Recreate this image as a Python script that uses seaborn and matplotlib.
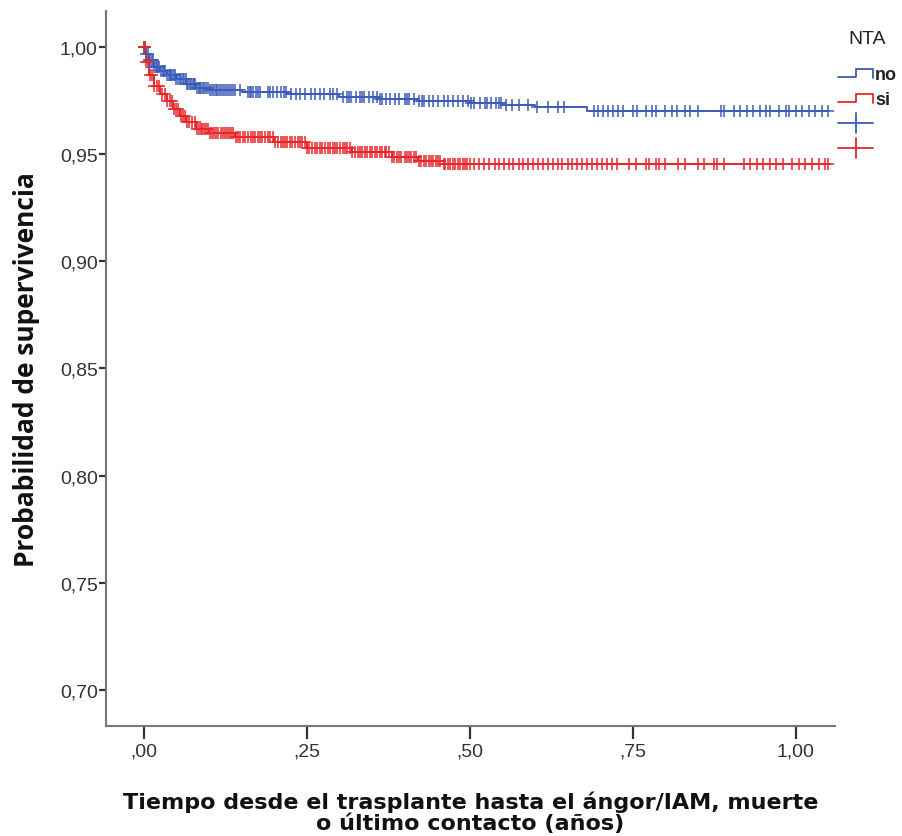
import numpy as np
import pandas as pd
import matplotlib
matplotlib.use("Agg")
import matplotlib.pyplot as plt
import seaborn as sns
from matplotlib.lines import Line2D
from matplotlib.legend_handler import HandlerBase

# ---- data ----
groups = ["no", "si"]
colors = {"no": "#3d5cba", "si": "#e8262b"}

no_times = [0.0, 0.003, 0.008, 0.015, 0.025, 0.035, 0.05, 0.065, 0.08, 0.10, 0.15,
            0.22, 0.30, 0.36, 0.42, 0.50, 0.55, 0.60, 0.68, 1.05]
no_surv = [1.0, 0.997, 0.994, 0.991, 0.989, 0.987, 0.985, 0.983, 0.981, 0.980, 0.979,
           0.978, 0.977, 0.976, 0.975, 0.974, 0.973, 0.972, 0.9705, 0.9705]

si_times = [0.0, 0.004, 0.008, 0.015, 0.025, 0.035, 0.045, 0.055, 0.065, 0.08, 0.10,
            0.14, 0.20, 0.25, 0.32, 0.38, 0.42, 0.46, 1.05]
si_surv = [1.0, 0.993, 0.987, 0.982, 0.978, 0.975, 0.971, 0.968, 0.965, 0.962, 0.960,
           0.958, 0.956, 0.953, 0.951, 0.949, 0.947, 0.9455, 0.9455]

no_censor = [0.0, 0.002, 0.004, 0.006, 0.008, 0.01, 0.012, 0.014, 0.016, 0.018, 0.02,
             0.022, 0.024, 0.027, 0.029, 0.031, 0.033, 0.036, 0.038, 0.04, 0.042,
             0.044, 0.046, 0.048, 0.05, 0.053, 0.055, 0.057, 0.06, 0.062, 0.064,
             0.066, 0.068, 0.071, 0.073, 0.075, 0.077, 0.079, 0.082, 0.084, 0.086,
             0.088, 0.091, 0.093, 0.096, 0.098, 0.101, 0.104, 0.107, 0.11, 0.113,
             0.115, 0.118, 0.121, 0.124, 0.127, 0.13, 0.134, 0.137, 0.14, 0.147,
             0.16, 0.163, 0.165, 0.168, 0.172, 0.175, 0.178, 0.19, 0.194, 0.198,
             0.205, 0.211, 0.215, 0.218, 0.226, 0.233, 0.24, 0.247, 0.256, 0.262,
             0.27, 0.277, 0.285, 0.29, 0.297, 0.305, 0.311, 0.315, 0.318, 0.326,
             0.332, 0.335, 0.338, 0.345, 0.352, 0.358, 0.362, 0.365, 0.372, 0.378,
             0.386, 0.392, 0.40, 0.404, 0.407, 0.415, 0.422, 0.427, 0.43, 0.437,
             0.443, 0.452, 0.46, 0.467, 0.474, 0.482, 0.49, 0.498, 0.502, 0.507,
             0.515, 0.523, 0.527, 0.532, 0.54, 0.545, 0.548, 0.556, 0.565, 0.575,
             0.59, 0.603, 0.62, 0.636, 0.645, 0.69, 0.697, 0.705, 0.712, 0.72,
             0.728, 0.735, 0.75, 0.757, 0.77, 0.78, 0.785, 0.80, 0.81, 0.818, 0.83,
             0.838, 0.85, 0.885, 0.89, 0.905, 0.915, 0.925, 0.935, 0.945, 0.955,
             0.96, 0.975, 0.985, 0.99, 1.0, 1.01, 1.02, 1.03, 1.04, 1.05]

si_censor = [0.0, 0.002, 0.004, 0.006, 0.009, 0.012, 0.016, 0.02, 0.024, 0.028,
             0.032, 0.036, 0.04, 0.043, 0.047, 0.05, 0.053, 0.057, 0.06, 0.063,
             0.067, 0.07, 0.074, 0.078, 0.082, 0.085, 0.088, 0.09, 0.093, 0.095,
             0.098, 0.102, 0.105, 0.108, 0.11, 0.114, 0.118, 0.121, 0.125, 0.128,
             0.13, 0.134, 0.137, 0.141, 0.145, 0.148, 0.152, 0.156, 0.16, 0.164,
             0.168, 0.171, 0.175, 0.178, 0.182, 0.186, 0.19, 0.194, 0.198, 0.202,
             0.206, 0.21, 0.213, 0.217, 0.22, 0.224, 0.228, 0.232, 0.236, 0.24,
             0.243, 0.247, 0.25, 0.254, 0.258, 0.262, 0.266, 0.27, 0.274, 0.278,
             0.282, 0.286, 0.29, 0.294, 0.297, 0.301, 0.305, 0.309, 0.312, 0.316,
             0.32, 0.324, 0.328, 0.332, 0.335, 0.34, 0.343, 0.347, 0.35, 0.354,
             0.358, 0.362, 0.365, 0.37, 0.372, 0.376, 0.38, 0.384, 0.388, 0.392,
             0.395, 0.40, 0.403, 0.407, 0.41, 0.414, 0.418, 0.422, 0.425, 0.43,
             0.433, 0.437, 0.44, 0.444, 0.448, 0.452, 0.455, 0.46, 0.462, 0.466,
             0.47, 0.474, 0.478, 0.482, 0.485, 0.49, 0.492, 0.496, 0.50, 0.507,
             0.514, 0.522, 0.53, 0.538, 0.545, 0.553, 0.56, 0.567, 0.575, 0.582,
             0.59, 0.597, 0.605, 0.612, 0.62, 0.628, 0.635, 0.642, 0.65, 0.657,
             0.665, 0.672, 0.68, 0.688, 0.695, 0.703, 0.71, 0.718, 0.726, 0.745,
             0.755, 0.77, 0.775, 0.785, 0.79, 0.80, 0.82, 0.83, 0.85, 0.86, 0.875,
             0.88, 0.89, 0.92, 0.93, 0.94, 0.95, 0.96, 0.97, 0.98, 0.995, 1.005,
             1.015, 1.025, 1.035, 1.045, 1.05]

xticks = [0.0, 0.25, 0.5, 0.75, 1.0]
xticklabels = [",00", ",25", ",50", ",75", "1,00"]
yticks = [0.70, 0.75, 0.80, 0.85, 0.90, 0.95, 1.00]
yticklabels = ["0,70", "0,75", "0,80", "0,85", "0,90", "0,95", "1,00"]

# ---- build tables ----
curves = pd.concat([
    pd.DataFrame({"t": no_times, "s": no_surv, "NTA": "no"}),
    pd.DataFrame({"t": si_times, "s": si_surv, "NTA": "si"}),
], ignore_index=True)


def surv_at(times, surv, q):
    idx = np.searchsorted(np.asarray(times), np.asarray(q), side="right") - 1
    return np.asarray(surv)[np.clip(idx, 0, len(surv) - 1)]


cens = pd.concat([
    pd.DataFrame({"t": no_censor, "s": surv_at(no_times, no_surv, no_censor), "NTA": "no"}),
    pd.DataFrame({"t": si_censor, "s": surv_at(si_times, si_surv, si_censor), "NTA": "si"}),
], ignore_index=True)

# ---- plot ----
sns.set_theme(style="white")
plt.rcParams["font.family"] = ["Liberation Sans", "DejaVu Sans"]

fig = plt.figure(figsize=(9.02, 8.37), dpi=100)
ax = fig.add_axes([0.1175, 0.1314, 0.808, 0.8543])

sns.lineplot(data=curves, x="t", y="s", hue="NTA", palette=colors,
             estimator=None, sort=False, drawstyle="steps-post",
             linewidth=1.4, legend=False, ax=ax)
for g in groups:
    sub = cens[cens["NTA"] == g]
    ax.plot(sub["t"], sub["s"], linestyle="none", marker="+",
            markersize=8.5, markeredgewidth=1.1, color=colors[g])

ax.set_xlim(-0.058, 1.06)
ax.set_ylim(0.683, 1.017)
ax.set_xticks(xticks)
ax.set_xticklabels(xticklabels)
ax.set_yticks(yticks)
ax.set_yticklabels(yticklabels)
ax.tick_params(axis="y", direction="out", length=5, width=1.6, labelsize=14,
               colors="#333333", left=True, pad=1)
ax.tick_params(axis="x", direction="out", length=9, width=1.6, labelsize=14,
               colors="#333333", bottom=True, pad=3)
for side in ["top", "right"]:
    ax.spines[side].set_visible(False)
for side in ["left", "bottom"]:
    ax.spines[side].set_color("#777777")
    ax.spines[side].set_linewidth(1.5)

ax.set_xlabel("Tiempo desde el trasplante hasta el ángor/IAM, muerte\no último contacto (años)",
              fontsize=16, fontweight="bold", labelpad=22, linespacing=1.05,
              family=["DejaVu Sans"], color="#111111")
ax.set_ylabel("Probabilidad de supervivencia", fontsize=19, fontweight="bold",
              labelpad=14, family=["Open Sans", "DejaVu Sans"], color="#111111")


class HandlerStep(HandlerBase):
    def create_artists(self, legend, orig_handle, xdescent, ydescent, width, height,
                       fontsize, trans):
        x0, x1 = -xdescent, -xdescent + width
        xm = x0 + width * 0.5
        yb = -ydescent + height * 0.15
        yt = -ydescent + height * 0.8
        ln = Line2D([x0, xm, xm, x1, x1], [yb, yb, yt, yt, yb - height * 0.05],
                    color=orig_handle.get_color(), lw=1.3, transform=trans)
        return [ln]


class HandlerPlus(HandlerBase):
    def create_artists(self, legend, orig_handle, xdescent, ydescent, width, height,
                       fontsize, trans):
        x0, x1 = -xdescent, -xdescent + width
        xc = (x0 + x1) / 2
        yc = -ydescent + height / 2
        h = Line2D([x0, x1], [yc, yc], color=orig_handle.get_color(), lw=1.3, transform=trans)
        v = Line2D([xc, xc], [yc - height * 0.8, yc + height * 0.8],
                   color=orig_handle.get_color(), lw=1.3, transform=trans)
        return [h, v]


class StepH(Line2D):
    pass


class PlusH(Line2D):
    pass


handles = [StepH([], [], color=colors["no"]), StepH([], [], color=colors["si"]),
           PlusH([], [], color=colors["no"]), PlusH([], [], color=colors["si"])]
labels = ["no", "si", "", ""]
leg = fig.legend(handles, labels, title="NTA", loc="upper left",
                 bbox_to_anchor=(0.920, 0.973), frameon=False,
                 prop={"size": 13, "weight": "bold"},
                 title_fontsize=14, handlelength=1.95, handletextpad=0.1,
                 labelspacing=0.45, borderaxespad=0, borderpad=0.45,
                 handler_map={StepH: HandlerStep(), PlusH: HandlerPlus()})
leg._legend_box.sep = 0.45 * 13 + 8
leg.get_title().set_color("#222222")
for t in leg.get_texts():
    t.set_color("#222222")

fig.savefig("out.png", dpi=100)
